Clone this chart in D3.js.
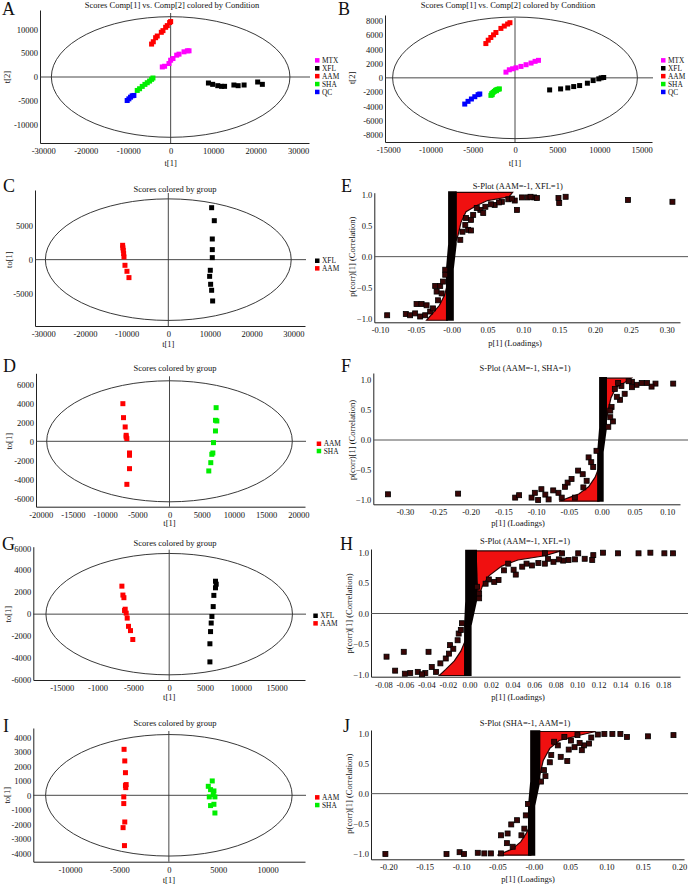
<!DOCTYPE html>
<html>
<head>
<meta charset="utf-8">
<script src="https://cdn.jsdelivr.net/npm/d3@7"></script>
<style>
  body { margin: 0; background: #fff; }
  text { font-family: "Liberation Serif", "Times New Roman", serif; fill: #111; }
  .letter { font-size: 18px; }
  .small { font-size: 8.5px; }
  .leg { font-size: 7.4px; }
</style>
</head>
<body>
<svg width="690" height="885"></svg>
<script>

// ---- score plot data: [t1, t2] per sample ----
var aMTX = [[-1970,2110],[-1420,2250],[-390,2820],[0,3520],[550,3870],[1420,4580],[1970,4790],[3150,5280],[3940,5490],[4330,5490]];
var aXFL = [[8900,-1260],[9900,-1540],[11100,-1820],[12000,-1960],[12700,-1960],[14900,-1680],[15900,-1820],[17300,-1680],[20500,-1050],[21600,-1540]];
var aAAM = [[-4490,6900],[-4090,7390],[-3540,8240],[-3150,8590],[-2200,9370],[-1810,9720],[-1180,10420],[-790,10770],[-240,11410],[0,11620]];
var aSHA = [[-7870,-2820],[-7320,-2460],[-6690,-1970],[-6060,-1550],[-5510,-1200],[-4960,-850],[-4490,-490],[-4170,-210]];
var aQC  = [[-10240,-4930],[-9840,-4580],[-9450,-4230],[-9060,-3940],[-8660,-3870]];

var bMTX = [[-1070,800],[-670,1130],[-280,1270],[120,1410],[710,1600],[1310,1840],[1900,2070],[2380,2310],[2780,2450]];
var bXFL = [[4100,-1690],[5400,-1550],[6250,-1410],[6950,-1220],[7650,-1080],[8570,-750],[9250,-380],[9920,-140],[10200,0],[10500,50]];
var bAAM = [[-3450,4800],[-3170,5270],[-2860,5650],[-2540,6020],[-2260,6350],[-1670,6920],[-1270,7250],[-870,7530],[-600,7720]];
var bSHA = [[-2850,-2450],[-2750,-2200],[-2600,-2050],[-2450,-1900],[-2300,-1750],[-2150,-1650],[-2000,-1600],[-1850,-1550],[-2700,-2350],[-2200,-1800]];
var bQC  = [[-5950,-3670],[-5560,-3290],[-5160,-2960],[-4760,-2640],[-4370,-2350],[-4170,-2260]];

var cXFL = [[10400,7720],[11040,5790],[10560,3070],[10560,1490],[10560,300],[10080,-1580],[9920,-2480],[10160,-3660],[10400,-4550],[10640,-6140]];
var cAAM = [[-10960,2130],[-10900,1750],[-10800,1390],[-10720,900],[-10640,400],[-10400,-840],[-9920,-1730],[-9440,-2670]];

var dAAM = [[-7240,3960],[-7140,2490],[-6880,1510],[-6730,630],[-6730,460],[-6620,280],[-6210,-1230],[-6210,-1470],[-6210,-2880],[-6620,-4530]];
var dSHA = [[7240,3540],[7140,2210],[7350,2140],[7140,1090],[6830,-140],[6730,-1230],[6570,-1370],[6410,-2250],[6100,-3120]];

var gXFL = [[6460,3000],[6560,2730],[6460,2400],[6230,1710],[6140,690],[5960,-210],[5860,-810],[5770,-1590],[5680,-2700],[5680,-4350]];
var gAAM = [[-6600,2550],[-6460,1740],[-6320,1500],[-6140,450],[-6230,330],[-6000,90],[-5860,-360],[-5680,-1110],[-5400,-1500],[-5080,-2310]];

var iAAM = [[-4530,3170],[-4460,2370],[-4390,1560],[-4320,740],[-4360,530],[-4390,670],[-4560,-110],[-4560,-570],[-4460,-1840],[-4630,-2230],[-4490,-3470]];
var iSHA = [[4390,990],[3990,620],[4220,390],[4560,300],[4490,50],[4090,-110],[4660,-110],[4220,-710],[4560,-620],[4660,-1220]];

// ---- S-plot data: [p[1], p(corr)[1]] ----
var ePts = [[0.098,0.95],[0.106,0.95],[0.115,0.95],[0.119,0.94],[0.088,0.90],[0.079,0.92],[0.070,0.88],[0.060,0.83],[0.055,0.84],[0.047,0.80],
  [0.040,0.75],[0.044,0.70],[0.030,0.67],[0.027,0.59],[0.023,0.43],[0.027,0.42],[0.019,0.51],[0.015,0.40],[0.012,0.27],[0.149,0.94],
  [0.150,0.86],[0.159,0.96],[0.246,0.91],[0.308,0.88],[0.091,0.75],[0.084,0.93],[0.110,0.96],[0.066,0.87],[0.035,0.78],[0.020,0.62],
  [-0.090,-0.94],[-0.064,-0.92],[-0.058,-0.94],[-0.051,-0.91],[-0.049,-0.76],[-0.042,-0.76],[-0.035,-0.78],[-0.023,-0.47],[-0.016,-0.47],
  [-0.021,-0.56],[-0.014,-0.59],[-0.009,-0.21],[-0.009,-0.29],[-0.044,-0.96],[-0.037,-0.94],[-0.030,-0.88],[-0.026,-0.83],[-0.019,-0.70],[-0.012,-0.40]];
var eRedTop = [[0.006,1.03],[0.085,1.03],[0.08,0.96],[0.05,0.9],[0.035,0.82],[0.02,0.72],[0.013,0.55],[0.009,0.35],[0.006,0.25]];
var eRedBot = [[-0.035,-1.02],[-0.006,-1.02],[-0.006,-0.45],[-0.01,-0.62],[-0.017,-0.78],[-0.026,-0.9]];
var eCore = [[-0.008,-1.03],[0.003,-1.03],[0.003,-0.2],[0.007,0.2],[0.007,1.05],[-0.005,1.05],[-0.005,0.2],[-0.008,-0.2]];

var fPts = [[0.109,0.94],[0.082,0.94],[0.076,0.89],[0.069,0.95],[0.061,0.95],[0.053,0.92],[0.046,0.97],[0.041,0.98],[0.035,0.77],[0.028,0.67],
  [0.023,0.72],[0.020,0.85],[0.015,0.55],[0.013,0.49],[0.017,0.31],[0.010,0.22],[0.013,0.38],[0.046,0.88],[0.030,0.90],[0.025,0.95],
  [-0.326,-0.905],[-0.219,-0.894],[-0.132,-0.96],[-0.126,-0.92],[-0.107,-0.96],[-0.102,-0.88],[-0.092,-0.82],[-0.086,-0.91],[-0.074,-0.84],
  [-0.066,-0.88],[-0.056,-0.78],[-0.052,-0.71],[-0.046,-0.65],[-0.036,-0.51],[-0.029,-0.57],[-0.023,-0.68],[-0.020,-0.29],[-0.016,-0.37],
  [-0.013,-0.45],[-0.008,-0.18],[-0.028,-0.79],[-0.041,-0.96],[-0.061,-0.96],[-0.081,-0.99],[-0.097,-1.0]];
var fRedTop = [[0.005,1.03],[0.045,1.03],[0.035,0.96],[0.022,0.88],[0.014,0.7],[0.009,0.45],[0.006,0.3]];
var fRedBot = [[-0.065,-1.02],[-0.004,-1.02],[-0.004,-0.45],[-0.01,-0.62],[-0.02,-0.78],[-0.035,-0.9],[-0.05,-0.96]];
var fCore = [[-0.007,-1.03],[0.003,-1.03],[0.003,-0.2],[0.008,0.2],[0.008,1.05],[-0.004,1.05],[-0.004,0.2],[-0.007,-0.2]];

var hPts = [[0.189,0.99],[0.181,0.99],[0.168,1.0],[0.157,0.99],[0.138,0.99],[0.124,1.0],[0.115,0.96],[0.107,0.90],[0.101,0.99],[0.098,0.89],
  [0.092,0.88],[0.087,0.87],[0.083,0.89],[0.078,0.85],[0.073,0.90],[0.070,0.82],[0.064,0.83],[0.058,0.79],[0.053,0.82],[0.049,0.77],
  [0.043,0.64],[0.041,0.72],[0.036,0.82],[0.032,0.71],[0.027,0.55],[0.023,0.52],[0.018,0.56],[0.015,0.49],[0.009,0.25],[0.009,0.33],
  [0.007,0.44],[0.086,0.99],[0.070,0.99],[0.114,0.88],
  [-0.077,-0.71],[-0.069,-0.94],[-0.061,-0.63],[-0.060,-0.99],[-0.055,-0.98],[-0.048,-0.96],[-0.041,-0.98],[-0.038,-0.63],[-0.035,-0.88],
  [-0.031,-0.96],[-0.027,-0.82],[-0.022,-0.74],[-0.019,-0.66],[-0.018,-0.52],[-0.015,-0.58],[-0.011,-0.44],[-0.010,-0.33],[-0.007,-0.16],
  [-0.008,-0.27],[-0.044,-1.0]];
var hRedTop = [[0.006,1.03],[0.085,1.03],[0.07,0.95],[0.045,0.88],[0.03,0.78],[0.018,0.62],[0.012,0.45],[0.008,0.25]];
var hRedBot = [[-0.028,-1.02],[-0.004,-1.02],[-0.004,-0.45],[-0.008,-0.62],[-0.014,-0.78],[-0.022,-0.92]];
var hCore = [[-0.005,-1.03],[0.002,-1.03],[0.002,-0.2],[0.007,0.2],[0.007,1.05],[-0.004,1.05],[-0.004,0.2],[-0.005,-0.2]];

var jPts = [[0.192,0.97],[0.157,0.95],[0.128,0.94],[0.119,0.99],[0.108,0.99],[0.097,0.99],[0.088,0.98],[0.079,0.93],[0.076,0.83],[0.069,0.80],
  [0.066,0.72],[0.063,0.84],[0.056,0.77],[0.051,0.88],[0.048,0.73],[0.046,0.54],[0.037,0.61],[0.033,0.80],[0.024,0.64],[0.022,0.52],
  [0.014,0.39],[0.016,0.29],[0.010,0.20],[0.028,0.86],[0.042,0.94],[0.060,0.97],
  [-0.204,-1.0],[-0.120,-1.0],[-0.102,-0.97],[-0.096,-1.0],[-0.077,-0.98],[-0.068,-0.99],[-0.059,-0.99],[-0.045,-0.69],[-0.036,-0.66],
  [-0.031,-0.51],[-0.023,-0.44],[-0.037,-0.82],[-0.029,-0.88],[-0.017,-0.69],[-0.013,-0.58],[-0.008,-0.17],[-0.011,-0.36],[-0.045,-0.99]];
var jRedTop = [[0.006,1.03],[0.085,1.03],[0.06,0.96],[0.035,0.88],[0.022,0.75],[0.013,0.55],[0.008,0.3]];
var jRedBot = [[-0.05,-1.02],[-0.004,-1.02],[-0.004,-0.5],[-0.01,-0.65],[-0.018,-0.8],[-0.03,-0.92]];
var jCore = [[-0.008,-1.03],[0.002,-1.03],[0.002,-0.2],[0.009,0.2],[0.009,1.05],[-0.005,1.05],[-0.005,0.2],[-0.008,-0.2]];

// ---- tick values and labels ----
var aXTicks = [-30000,-20000,-10000,0,10000,20000,30000];
var aYTicks = [-10000,-5000,0,5000,10000];
var bXTicks = [-15000,-10000,-5000,0,5000,10000,15000];
var bYTicks = [-8000,-6000,-4000,-2000,0,2000,4000,6000,8000];
var cXTicks = [-30000,-20000,-10000,0,10000,20000,30000];
var cYTicks = [-5000,0,5000];
var dXTicks = [-20000,-15000,-10000,-5000,0,5000,10000,15000,20000];
var dYTicks = [-6000,-4000,-2000,0,2000,4000,6000];
var gXTicks = [-15000,-10000,-5000,0,5000,10000,15000];
var gXLabels = ['-15000','-1000','-5000','0','5000','10000','15000'];
var gYTicks = [-6000,-4000,-2000,0,2000,4000,6000];
var iXTicks = [-10000,-5000,0,5000,10000];
var iYTicks = [-4000,-3000,-2000,-1000,0,1000,2000,3000,4000];
var sYTicks = [-1.0,-0.5,0.0,0.5,1.0];
var eXTicks = [-0.10,-0.05,0,0.05,0.10,0.15,0.20,0.25,0.30];
var eXLabels = ['-0.10','-0.05','-0.00','0.05','0.10','0.15','0.20','0.25','0.30'];
var fXTicks = [-0.30,-0.25,-0.20,-0.15,-0.10,-0.05,0,0.05,0.10];
var fXLabels = ['-0.30','-0.25','-0.20','-0.15','-0.10','-0.05','0.00','0.05','0.10'];
var hXTicks = [-0.08,-0.06,-0.04,-0.02,0,0.02,0.04,0.06,0.08,0.10,0.12,0.14,0.16,0.18];
var hXLabels = ['-0.08','-0.06','-0.04','-0.02','0.00','0.02','0.04','0.06','0.08','0.10','0.12','0.14','0.16','0.18'];
var jXTicks = [-0.20,-0.15,-0.10,-0.05,0,0.05,0.10,0.15,0.20];
var jXLabels = ['-0.20','-0.15','-0.10','-0.05','-0.00','0.05','0.10','0.15','0.20'];

var colors = { MTX: '#ff00ff', XFL: '#000000', AAM: '#ff0000', SHA: '#00ee00', QC: '#0000ff' };

var svg = d3.select('svg');

// linear scale fixed by two tick positions, stretched to the axis ends
function makeScale(v0, p0, v1, p1, lo, hi) {
  var s = d3.scaleLinear().domain([v0, v1]).range([p0, p1]);
  return d3.scaleLinear().domain([s.invert(lo), s.invert(hi)]).range([lo, hi]);
}

function frame(p) {
  var x = makeScale(p.xv[0], p.xp[0], p.xv[1], p.xp[1], p.left, p.right);
  var y = makeScale(p.yv[0], p.yp[0], p.yv[1], p.yp[1], p.bottom, p.top);
  var g = svg.append('g');

  g.append('text').attr('class', 'letter').attr('x', p.lx).attr('y', p.ly).text(p.letter);
  g.append('text').attr('class', 'small').attr('x', p.titleX).attr('y', p.titleY)
    .attr('text-anchor', 'middle').text(p.title);

  var xAxis = d3.axisBottom(x).tickValues(p.xTicks)
    .tickFormat(function(d) { return p.xLabels ? p.xLabels[p.xTicks.indexOf(d)] : d; })
    .tickSize(0).tickSizeOuter(0).tickPadding(5);
  g.append('g').attr('transform', 'translate(0,' + p.bottom + ')').call(xAxis)
    .attr('font-family', null).attr('font-size', null).attr('class', 'small');

  var yAxis = d3.axisLeft(y).tickValues(p.yTicks)
    .tickFormat(p.yFmt || function(d) { return d; })
    .tickSize(0).tickSizeOuter(0).tickPadding(2);
  g.append('g').attr('transform', 'translate(' + p.left + ',0)').call(yAxis)
    .attr('font-family', null).attr('font-size', null).attr('class', 'small');

  g.selectAll('.domain').attr('stroke', '#222').attr('stroke-width', 1);

  g.append('text').attr('class', 'small').attr('text-anchor', 'middle')
    .attr('transform', 'translate(' + p.ylabX + ',' + y(0) + ') rotate(-90)').text(p.ylab);
  g.append('text').attr('class', 'small').attr('text-anchor', 'middle')
    .attr('x', p.xlabX === undefined ? x(0) : p.xlabX).attr('y', p.xlabY).text(p.xlab);

  return { g: g, x: x, y: y };
}

function scorePanel(p, series) {
  var f = frame(p), g = f.g, x = f.x, y = f.y;

  g.append('ellipse')
    .attr('cx', x(0)).attr('cy', y(0))
    .attr('rx', x(p.ell[0]) - x(0)).attr('ry', y(0) - y(p.ell[1]))
    .attr('fill', 'none').attr('stroke', '#222').attr('stroke-width', 0.9);

  g.append('line').attr('x1', x(0)).attr('x2', x(0)).attr('y1', p.top + 3).attr('y2', p.bottom)
    .attr('stroke', '#333').attr('stroke-width', 0.9);
  g.append('line').attr('x1', p.left).attr('x2', p.right + 1).attr('y1', y(0)).attr('y2', y(0))
    .attr('stroke', '#333').attr('stroke-width', 0.9);

  series.forEach(function(s) {
    g.selectAll(null).data(s.pts).enter().append('rect')
      .attr('x', function(d) { return x(d[0]) - 2.5; })
      .attr('y', function(d) { return y(d[1]) - 2.5; })
      .attr('width', 5).attr('height', 5)
      .style('fill', colors[s.name]);
  });

  var legend = g.selectAll('.legend').data(series).enter().append('g')
    .attr('transform', function(d, i) { return 'translate(' + p.legX + ',' + (p.legY + i * p.legDy) + ')'; });
  legend.append('rect').attr('x', 0).attr('y', -2.2).attr('width', 4.5).attr('height', 4.5)
    .style('fill', function(d) { return colors[d.name]; });
  legend.append('text').attr('class', 'leg').attr('x', 7).attr('y', 2.6)
    .text(function(d) { return d.name; });
}

function sPanel(p, pts, redTop, redBot, core) {
  var f = frame(p), g = f.g, x = f.x, y = f.y;
  var poly = d3.line().x(function(d) { return x(d[0]); }).y(function(d) { return y(d[1]); })
    .curve(d3.curveLinearClosed);

  g.append('line').attr('x1', p.left).attr('x2', p.zeroRight).attr('y1', y(0)).attr('y2', y(0))
    .attr('stroke', '#555').attr('stroke-width', 1);

  [redTop, redBot].forEach(function(r) {
    g.append('path').attr('d', poly(r))
      .attr('fill', '#f01010').attr('stroke', '#2a0303').attr('stroke-width', 1.2);
  });
  g.append('path').attr('d', poly(core)).attr('fill', '#050000');

  g.selectAll(null).data(pts).enter().append('rect')
    .attr('x', function(d) { return x(d[0]) - 2.5; })
    .attr('y', function(d) { return y(d[1]) - 2.5; })
    .attr('width', 5).attr('height', 5)
    .style('fill', '#3a0606').style('stroke', '#000').style('stroke-width', 0.8);
}

var sFmt = d3.format('.1f');

scorePanel({ letter: 'A', lx: 2, ly: 15, title: 'Scores Comp[1] vs. Comp[2] colored by Condition', titleX: 172, titleY: 8,
  xv: [-30000, 30000], xp: [43.3, 298], yv: [10000, -10000], yp: [29.3, 124.7],
  left: 40, right: 309, top: 10, bottom: 143, ell: [28100, 12640],
  xTicks: aXTicks, yTicks: aYTicks, ylab: 't[2]', ylabX: 10, xlab: 't[1]', xlabY: 166,
  legX: 315, legY: 60.3, legDy: 7.9 },
  [{ name: 'MTX', pts: aMTX }, { name: 'XFL', pts: aXFL }, { name: 'AAM', pts: aAAM }, { name: 'SHA', pts: aSHA }, { name: 'QC', pts: aQC }]);

scorePanel({ letter: 'B', lx: 338, ly: 15, title: 'Scores Comp[1] vs. Comp[2] colored by Condition', titleX: 508, titleY: 8,
  xv: [-15000, 15000], xp: [388.3, 641.7], yv: [8000, -8000], yp: [20.7, 135],
  left: 385, right: 652, top: 15, bottom: 142, ell: [14490, 8510],
  xTicks: bXTicks, yTicks: bYTicks, ylab: 't[2]', ylabX: 355, xlab: 't[1]', xlabY: 166,
  legX: 661, legY: 60.3, legDy: 7.9 },
  [{ name: 'MTX', pts: bMTX }, { name: 'XFL', pts: bXFL }, { name: 'AAM', pts: bAAM }, { name: 'SHA', pts: bSHA }, { name: 'QC', pts: bQC }]);

scorePanel({ letter: 'C', lx: 3, ly: 192, title: 'Scores colored by group', titleX: 175, titleY: 192,
  xv: [-30000, 30000], xp: [43.3, 293.3], yv: [5000, -5000], yp: [226, 293.3],
  left: 35, right: 305, top: 190, bottom: 326, ell: [29500, 9030],
  xTicks: cXTicks, yTicks: cYTicks, ylab: 'to[1]', ylabX: 11.7, xlab: 't[1]', xlabY: 347,
  legX: 315, legY: 260.7, legDy: 7.6 },
  [{ name: 'XFL', pts: cXFL }, { name: 'AAM', pts: cAAM }]);

scorePanel({ letter: 'D', lx: 3, ly: 372, title: 'Scores colored by group', titleX: 175, titleY: 371,
  xv: [-20000, 20000], xp: [40.7, 298.3], yv: [6000, -6000], yp: [384.3, 498.3],
  left: 36, right: 305, top: 373.3, bottom: 506.7, ell: [19070, 6370],
  xTicks: dXTicks, yTicks: dYTicks, ylab: 'to[1]', ylabX: 11.7, xlab: 't[1]', xlabY: 526,
  legX: 316.7, legY: 443.7, legDy: 7.3 },
  [{ name: 'AAM', pts: dAAM }, { name: 'SHA', pts: dSHA }]);

scorePanel({ letter: 'G', lx: 2, ly: 550, title: 'Scores colored by group', titleX: 175, titleY: 546,
  xv: [-15000, 15000], xp: [61.7, 276.7], yv: [6000, -6000], yp: [548.3, 680],
  left: 33.3, right: 305, top: 546.7, bottom: 680, ell: [17200, 5530],
  xTicks: gXTicks, xLabels: gXLabels, yTicks: gYTicks, ylab: 'to[1]', ylabX: 11, xlab: 't[1]', xlabY: 700,
  legX: 313.3, legY: 615.7, legDy: 7.6 },
  [{ name: 'XFL', pts: gXFL }, { name: 'AAM', pts: gAAM }]);

scorePanel({ letter: 'I', lx: 3, ly: 732, title: 'Scores colored by group', titleX: 175, titleY: 726,
  xv: [-10000, 10000], xp: [70, 267.7], yv: [4000, -4000], yp: [737.3, 853.3],
  left: 33.3, right: 305, top: 728, bottom: 861.7, ell: [12470, 4190],
  xTicks: iXTicks, yTicks: iYTicks, ylab: 'to[1]', ylabX: 10, xlab: 't[1]', xlabY: 883,
  legX: 315, legY: 797.3, legDy: 7.7 },
  [{ name: 'AAM', pts: iAAM }, { name: 'SHA', pts: iSHA }]);

sPanel({ letter: 'E', lx: 341, ly: 192, title: 'S-Plot (AAM=-1, XFL=1)', titleX: 517.7, titleY: 189,
  xv: [-0.10, 0.30], xp: [380, 666.7], yv: [1, -1], yp: [194.3, 319],
  left: 374.3, right: 680, top: 192.7, bottom: 322.3, zeroRight: 688,
  xTicks: eXTicks, xLabels: eXLabels, yTicks: sYTicks, yFmt: sFmt,
  ylab: 'p(corr)[1] (Correlation)', ylabX: 355, xlab: 'p[1] (Loadings)', xlabX: 515, xlabY: 346 },
  ePts, eRedTop, eRedBot, eCore);

sPanel({ letter: 'F', lx: 341, ly: 372, title: 'S-Plot (AAM=-1, SHA=1)', titleX: 525, titleY: 371,
  xv: [-0.30, 0.10], xp: [405, 667.3], yv: [1, -1], yp: [380, 500],
  left: 373.3, right: 680, top: 373, bottom: 504.3, zeroRight: 688,
  xTicks: fXTicks, xLabels: fXLabels, yTicks: sYTicks, yFmt: sFmt,
  ylab: 'p(corr)[1] (Correlation)', ylabX: 355, xlab: 'p[1] (Loadings)', xlabX: 518, xlabY: 526 },
  fPts, fRedTop, fRedBot, fCore);

sPanel({ letter: 'H', lx: 340, ly: 550, title: 'S-Plot (AAM=-1, XFL=1)', titleX: 525, titleY: 544,
  xv: [-0.08, 0.18], xp: [383.3, 663.3], yv: [1, -1], yp: [552.7, 674.3],
  left: 371, right: 680, top: 549, bottom: 676.7, zeroRight: 688,
  xTicks: hXTicks, xLabels: hXLabels, yTicks: sYTicks, yFmt: sFmt,
  ylab: 'p(corr)[1] (Correlation)', ylabX: 352, xlab: 'p[1] (Loadings)', xlabX: 518, xlabY: 700 },
  hPts, hRedTop, hRedBot, hCore);

sPanel({ letter: 'J', lx: 343, ly: 732, title: 'S-Plot (SHA=-1, AAM=1)', titleX: 525, titleY: 726,
  xv: [-0.20, 0.20], xp: [388.3, 679.3], yv: [1, -1], yp: [733.3, 854],
  left: 371, right: 684, top: 730, bottom: 859.3, zeroRight: 688,
  xTicks: jXTicks, xLabels: jXLabels, yTicks: sYTicks, yFmt: sFmt,
  ylab: 'p(corr)[1] (Correlation)', ylabX: 352, xlab: 'p[1] (Loadings)', xlabX: 528, xlabY: 882 },
  jPts, jRedTop, jRedBot, jCore);

</script>
</body>
</html>
